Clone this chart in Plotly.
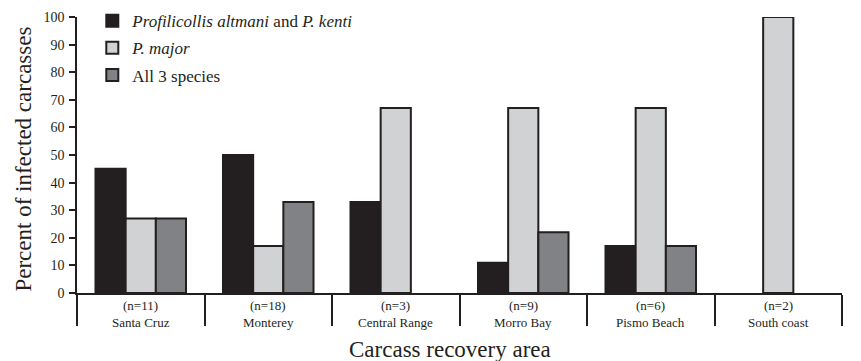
import plotly.graph_objects as go

# Carcass recovery areas and sample sizes
areas = ["Santa Cruz", "Monterey", "Central Range", "Morro Bay", "Pismo Beach", "South coast"]
sample_sizes = [11, 18, 3, 9, 6, 2]

# Percent of infected carcasses per parasite group (None = not found)
altmani_kenti = [45, 50, 33, 11, 17, None]
major = [27, 17, 67, 67, 67, 100]
all_three = [27, 33, None, 22, 17, None]

y_ticks = [0, 10, 20, 30, 40, 50, 60, 70, 80, 90, 100]

FONT = "Times New Roman, Liberation Serif, serif"
INK = "#231f20"

series = [
    ("<i>Profilicollis altmani</i> and <i>P. kenti</i>", altmani_kenti, "#231f20"),
    ("<i>P. major</i>", major, "#d1d2d4"),
    ("All 3 species", all_three, "#808285"),
]

fig = go.Figure()
for i, (name, vals, color) in enumerate(series):
    fig.add_trace(go.Bar(
        x=areas, y=vals, name=name, legendgroup=f"g{i}",
        marker=dict(color=color, line=dict(color=INK, width=2)),
    ))

# Two-line category labels under each area
annotations = []
for area, n in zip(areas, sample_sizes):
    annotations.append(dict(
        x=area, y=0, xref="x", yref="paper", yanchor="middle",
        yshift=-12, text=f"(n={n})", showarrow=False,
        font=dict(family=FONT, size=13, color=INK),
    ))
    annotations.append(dict(
        x=area, y=0, xref="x", yref="paper", yanchor="middle",
        yshift=-29, text=area, showarrow=False,
        font=dict(family=FONT, size=13, color=INK),
    ))

# Axis titles
annotations.append(dict(
    x=0.4876, y=0, xref="paper", yref="paper", yanchor="middle",
    yshift=-56, text="Carcass recovery area", showarrow=False,
    font=dict(family=FONT, size=23, color=INK),
))
annotations.append(dict(
    x=-0.0693, y=0.487, xref="paper", yref="paper", xanchor="center", yanchor="middle",
    textangle=-90, text="Percent of infected carcasses", showarrow=False,
    font=dict(family=FONT, size=23, color=INK),
))

fig.update_layout(
    width=861, height=361,
    margin=dict(l=77, r=19, t=17, b=68, autoexpand=False),
    paper_bgcolor="white", plot_bgcolor="white",
    barmode="group", bargap=0.29, bargroupgap=0,
    font=dict(family=FONT, color=INK),
    showlegend=True,
    legend=dict(
        x=0.02, y=1.05, xanchor="left", yanchor="top",
        font=dict(family=FONT, size=17, color=INK),
        bgcolor="rgba(0,0,0,0)", tracegroupgap=2,
    ),
    annotations=annotations,
)

fig.update_xaxes(
    type="category", showline=True, linecolor=INK, linewidth=1.5,
    ticks="outside", tickson="boundaries", ticklen=31, tickwidth=1.5,
    tickcolor=INK, showticklabels=False, showgrid=False, zeroline=False,
)
fig.update_yaxes(
    range=[0, 100], tickvals=y_ticks, showline=True, linecolor=INK, linewidth=1.5,
    ticks="outside", ticklen=6, tickwidth=1.5, tickcolor=INK,
    tickfont=dict(family=FONT, size=14, color=INK), ticklabelstandoff=2,
    showgrid=False, zeroline=False,
)

fig.write_html("out.html")
